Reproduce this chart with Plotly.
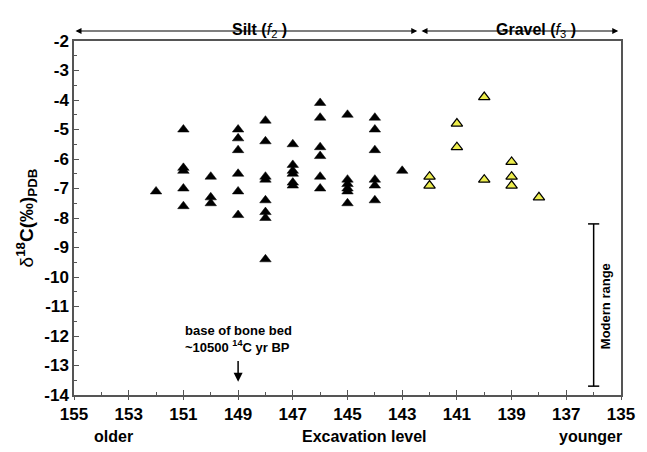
import plotly.graph_objects as go

# Silt (f2) samples, black triangles
silt_x = [152,
          151, 151, 151, 151, 151,
          150, 150, 150,
          149, 149, 149, 149, 149, 149,
          148, 148, 148, 148, 148, 148, 148, 148,
          147, 147, 147, 147, 147, 147,
          146, 146, 146, 146, 146, 146,
          145, 145, 145, 145, 145, 145,
          144, 144, 144, 144, 144, 144,
          143]
silt_y = [-7.1,
          -5.0, -6.3, -6.4, -7.0, -7.6,
          -6.6, -7.3, -7.5,
          -5.0, -5.3, -5.7, -6.5, -7.1, -7.9,
          -4.7, -5.4, -6.6, -6.7, -7.4, -7.8, -8.0, -9.4,
          -5.5, -6.2, -6.4, -6.5, -6.8, -6.9,
          -4.1, -4.6, -5.6, -5.9, -6.6, -7.0,
          -4.5, -6.7, -6.85, -7.0, -7.1, -7.5,
          -4.6, -5.0, -5.7, -6.7, -6.9, -7.4,
          -6.4]

# Gravel (f3) samples, yellow triangles
gravel_x = [142, 142, 141, 141, 140, 140, 139, 139, 139, 138]
gravel_y = [-6.6, -6.9, -4.8, -5.6, -3.9, -6.7, -6.1, -6.6, -6.9, -7.3]

# Modern range
modern_x = [136, 136]
modern_y = [-8.2, -13.7]

x_ticks = [155, 153, 151, 149, 147, 145, 143, 141, 139, 137, 135]
y_ticks = list(range(-2, -15, -1))

FONT = "Arial, Liberation Sans, sans-serif"
AXC = "#555555"

fig = go.Figure()

fig.add_trace(go.Scatter(
    x=silt_x, y=silt_y, mode="markers",
    marker=dict(symbol="triangle-up", size=10, color="black",
                line=dict(color="black", width=0.5)),
    showlegend=False, hoverinfo="x+y"))

fig.add_trace(go.Scatter(
    x=gravel_x, y=gravel_y, mode="markers",
    marker=dict(symbol="triangle-up", size=10, color="#eded4c",
                line=dict(color="black", width=1.2)),
    showlegend=False, hoverinfo="x+y"))

fig.add_trace(go.Scatter(
    x=modern_x, y=modern_y, mode="lines+markers",
    line=dict(color="black", width=1.5),
    marker=dict(symbol="line-ew-open", size=8, color="black",
                line=dict(color="black", width=1.5)),
    showlegend=False, hoverinfo="skip"))

# invisible trace to carry the overlay x-axis (outside part of crossing ticks)
fig.add_trace(go.Scatter(x=[155], y=[-20], xaxis="x2", mode="markers",
                         marker=dict(opacity=0), showlegend=False,
                         hoverinfo="skip"))

TICKFONT = dict(family=FONT, size=17, color="black", weight="bold")

fig.update_layout(
    width=639, height=444,
    margin=dict(l=66, r=26, t=33, b=57),
    paper_bgcolor="white", plot_bgcolor="white",
    font=dict(family=FONT, color="black"),
    xaxis=dict(
        range=[155, 135], tickvals=x_ticks,
        ticktext=[str(v) for v in x_ticks],
        ticks="inside", ticklen=5, tickwidth=1.2, tickcolor=AXC,
        minor=dict(dtick=1, tick0=155, ticks="inside", ticklen=3,
                   tickcolor=AXC, tickwidth=1.2),
        showline=True, linecolor=AXC, linewidth=1.5, mirror=True,
        showgrid=False, zeroline=False,
        tickfont=TICKFONT,
        ticklabelstandoff=3,
    ),
    xaxis2=dict(
        range=[155, 135], overlaying="x", side="bottom", anchor="y",
        tickvals=x_ticks, showticklabels=False,
        ticks="outside", ticklen=4, tickwidth=1.2, tickcolor=AXC,
        showline=False, showgrid=False, zeroline=False,
    ),
    yaxis=dict(
        range=[-14, -2], tickvals=y_ticks,
        ticktext=[str(v) for v in y_ticks],
        ticks="inside", ticklen=5, tickwidth=1.2, tickcolor=AXC,
        minor=dict(dtick=0.5, tick0=-2, ticks="inside", ticklen=3,
                   tickcolor=AXC, tickwidth=1.2),
        showline=True, linecolor=AXC, linewidth=1.5, mirror=True,
        showgrid=False, zeroline=False,
        tickfont=TICKFONT,
        title=dict(text="δ<sup><b>18</b></sup><b>C(‰)</b><sub><b>PDB</b></sub>",
                   font=dict(family=FONT, size=19, color="black"),
                   standoff=6),
    ),
)

# bottom axis labels
for txt, xp in [("older", 113), ("Excavation level", 364), ("younger", 590)]:
    fig.add_annotation(text=f"<b>{txt}</b>", xref="paper", yref="paper",
                       x=(xp - 74) / 547, y=-(437 - 395) / 354,
                       showarrow=False, xanchor="center", yanchor="middle",
                       font=dict(family=FONT, size=16, color="black"))

# top unit arrows
arrow_y = 1 + (41 - 31) / 354
for x0, x1 in [(155, 142.45), (142.35, 135.1)]:
    fig.add_annotation(x=x1, y=arrow_y, xref="x", yref="paper",
                       ax=x0, ay=0, axref="x", ayref="pixel",
                       showarrow=True, arrowhead=2, arrowsize=1,
                       arrowwidth=1.2, arrowcolor="black",
                       arrowside="end+start", text="")

fig.add_annotation(x=148.2, y=1 + (41 - 19) / 354, xref="x", yref="paper",
                   text="<b>Silt (</b><i>f</i><sub>2</sub><b> )</b>",
                   showarrow=False, font=dict(family=FONT, size=16, color="black"))
fig.add_annotation(x=138.1, y=1 + (41 - 19) / 354, xref="x", yref="paper",
                   text="<b>Gravel (</b><i>f</i><sub>3</sub><b> )</b>",
                   showarrow=False, font=dict(family=FONT, size=16, color="black"))

# base of bone bed
fig.add_annotation(x=149, y=-13.55, xref="x", yref="y",
                   ax=149, ay=-12.8, axref="x", ayref="y",
                   showarrow=True, arrowhead=2, arrowsize=1.2,
                   arrowwidth=1.5, arrowcolor="black", text="")
fig.add_annotation(x=149, y=-12.7, xref="x", yref="y",
                   text="<b>base of bone bed</b><br><b>~10500 </b><sup><b>14</b></sup><b>C yr BP</b>",
                   showarrow=False, xanchor="center", yanchor="bottom",
                   align="left", font=dict(family=FONT, size=13, color="black"))

# modern range label
fig.add_annotation(x=136, y=-11, xref="x", yref="y", xshift=12,
                   text="<b>Modern range</b>", textangle=-90,
                   showarrow=False, font=dict(family=FONT, size=13, color="black"))

fig.write_html("out.html")
